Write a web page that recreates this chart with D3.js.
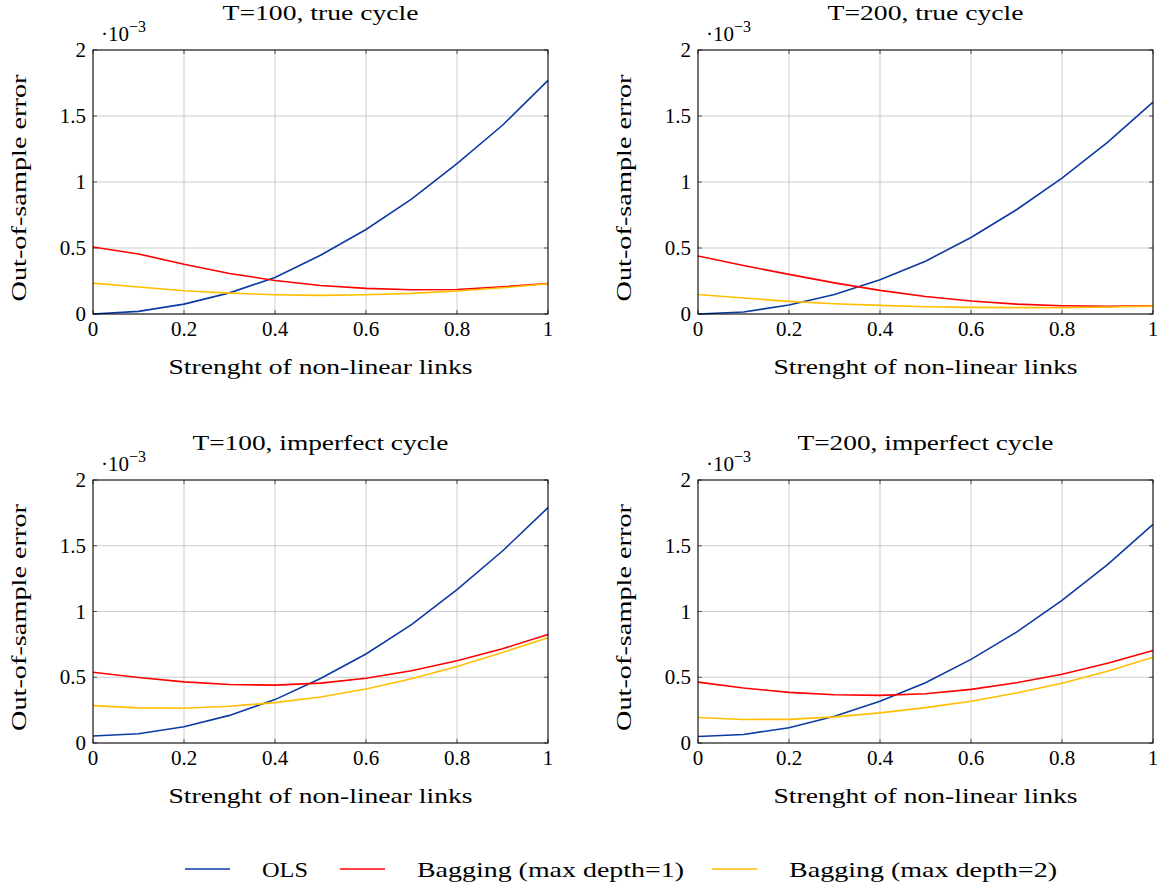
<!DOCTYPE html>
<html>
<head>
<meta charset="utf-8">
<script src="https://cdn.jsdelivr.net/npm/d3@7"></script>
<style>
  body { margin: 0; background: #fff; }
  text { font-family: "Liberation Serif", "Times New Roman", serif; fill: #000; }
</style>
</head>
<body>
<div id="chart"></div>
<script>
// x values (strength of non-linear links)
let xs = [0, 0.1, 0.2, 0.3, 0.4, 0.5, 0.6, 0.7, 0.8, 0.9, 1]

// errors, in units of 1e-3
let olsTrue100 = [0, 0.02, 0.075, 0.16, 0.277, 0.445, 0.64, 0.87, 1.14, 1.43, 1.77]
let bag1True100 = [0.508, 0.455, 0.377, 0.307, 0.254, 0.216, 0.194, 0.184, 0.186, 0.206, 0.231]
let bag2True100 = [0.234, 0.204, 0.176, 0.158, 0.146, 0.141, 0.146, 0.156, 0.174, 0.199, 0.229]

let olsTrue200 = [0, 0.015, 0.068, 0.148, 0.259, 0.40, 0.58, 0.79, 1.03, 1.30, 1.605]
let bag1True200 = [0.44, 0.367, 0.30, 0.236, 0.179, 0.133, 0.098, 0.075, 0.063, 0.058, 0.063]
let bag2True200 = [0.148, 0.121, 0.096, 0.078, 0.065, 0.055, 0.05, 0.048, 0.048, 0.053, 0.06]

let olsImp100 = [0.053, 0.07, 0.123, 0.21, 0.33, 0.49, 0.677, 0.90, 1.167, 1.46, 1.79]
let bag1Imp100 = [0.538, 0.498, 0.465, 0.445, 0.44, 0.455, 0.493, 0.55, 0.626, 0.717, 0.825]
let bag2Imp100 = [0.284, 0.267, 0.264, 0.279, 0.307, 0.35, 0.41, 0.488, 0.581, 0.689, 0.80]

let olsImp200 = [0.05, 0.065, 0.116, 0.204, 0.317, 0.458, 0.636, 0.843, 1.084, 1.356, 1.663]
let bag1Imp200 = [0.463, 0.418, 0.385, 0.367, 0.362, 0.375, 0.408, 0.458, 0.523, 0.606, 0.704]
let bag2Imp200 = [0.194, 0.179, 0.18, 0.199, 0.229, 0.269, 0.317, 0.38, 0.455, 0.546, 0.652]

let seriesNames = ['OLS', 'Bagging (max depth=1)', 'Bagging (max depth=2)']
let seriesColors = ['#0b3aa3', '#ff0000', '#ffbf00']

let xTicks = [0, 0.2, 0.4, 0.6, 0.8, 1]
let yTicks = [0, 0.5, 1, 1.5, 2]

let panels = [
  { title: 'T=100, true cycle', series: [olsTrue100, bag1True100, bag2True100], left: 93, top: 50, bottom: 314 },
  { title: 'T=200, true cycle', series: [olsTrue200, bag1True200, bag2True200], left: 698, top: 50, bottom: 314 },
  { title: 'T=100, imperfect cycle', series: [olsImp100, bag1Imp100, bag2Imp100], left: 93, top: 480, bottom: 743 },
  { title: 'T=200, imperfect cycle', series: [olsImp200, bag1Imp200, bag2Imp200], left: 698, top: 480, bottom: 743 }
]

let width = 1166, height = 888
let plotW = 455
let fs = '21px'

// the reference uses Computer Modern, which runs wider than Liberation Serif,
// so stretch the longer strings to the widths seen there
function label(sel, str, len) {
  let t = sel.append('text').style('font-size', fs).text(str)
  if (len) t.attr('textLength', len).attr('lengthAdjust', 'spacingAndGlyphs')
  return t
}

let svg = d3.select('#chart')
  .append('svg')
  .attr('width', width)
  .attr('height', height)

panels.forEach(function(p) {
  let x = d3.scaleLinear().domain([0, 1]).range([p.left, p.left + plotW])
  let y = d3.scaleLinear().domain([0, 2]).range([p.bottom, p.top])
  let g = svg.append('g')

  // grid
  g.selectAll('.gx').data(xTicks).enter().append('line')
    .attr('x1', d => x(d)).attr('x2', d => x(d))
    .attr('y1', p.top).attr('y2', p.bottom)
    .attr('stroke', '#cccccc').attr('stroke-width', 1)
  g.selectAll('.gy').data(yTicks).enter().append('line')
    .attr('x1', p.left).attr('x2', p.left + plotW)
    .attr('y1', d => y(d)).attr('y2', d => y(d))
    .attr('stroke', '#cccccc').attr('stroke-width', 1)

  // inner ticks on all four sides
  let tl = 4
  xTicks.forEach(function(t) {
    g.append('line').attr('x1', x(t)).attr('x2', x(t)).attr('y1', p.bottom).attr('y2', p.bottom - tl).attr('stroke', '#555')
    g.append('line').attr('x1', x(t)).attr('x2', x(t)).attr('y1', p.top).attr('y2', p.top + tl).attr('stroke', '#555')
  })
  yTicks.forEach(function(t) {
    g.append('line').attr('x1', p.left).attr('x2', p.left + tl).attr('y1', y(t)).attr('y2', y(t)).attr('stroke', '#555')
    g.append('line').attr('x1', p.left + plotW).attr('x2', p.left + plotW - tl).attr('y1', y(t)).attr('y2', y(t)).attr('stroke', '#555')
  })

  // lines
  let line = d3.line()
    .x((d, i) => x(xs[i]))
    .y(d => y(d))
  p.series.forEach(function(s, k) {
    g.append('path')
      .datum(s)
      .attr('d', line)
      .attr('fill', 'none')
      .attr('stroke', seriesColors[k])
      .attr('stroke-width', 1.6)
  })

  // frame
  g.append('rect')
    .attr('x', p.left).attr('y', p.top)
    .attr('width', plotW).attr('height', p.bottom - p.top)
    .attr('fill', 'none').attr('stroke', '#000').attr('stroke-width', 1)

  // tick labels
  g.selectAll('.xl').data(xTicks).enter().append('text')
    .attr('x', d => x(d)).attr('y', p.bottom + 22)
    .attr('text-anchor', 'middle')
    .style('font-size', fs)
    .text(d => d3.format('~g')(d))
  g.selectAll('.yl').data(yTicks).enter().append('text')
    .attr('x', p.left - 7).attr('y', d => y(d) + 7)
    .attr('text-anchor', 'end')
    .style('font-size', fs)
    .text(d => d3.format('~g')(d))

  // scale marker
  let sc = g.append('text')
    .attr('x', p.left + 8).attr('y', p.top - 9)
    .style('font-size', fs)
  sc.append('tspan').text('·10')
  sc.append('tspan').attr('dy', -9).style('font-size', '16px').text('−3')

  // title
  label(g, p.title, p.title.length > 18 ? 256 : 196)
    .attr('x', p.left + plotW / 2 - (p.title.length > 18 ? 128 : 98))
    .attr('y', p.top - 30)

  // axis labels
  label(g, 'Strenght of non-linear links', 304)
    .attr('x', p.left + plotW / 2 - 152).attr('y', p.bottom + 60)
  label(g, 'Out-of-sample error', 227)
    .attr('transform', 'translate(' + (p.left - 67) + ',' + ((p.top + p.bottom) / 2 + 6 + 113.5) + ') rotate(-90)')
})

// legend
let legendX = [185, 340, 712]
let legendW = [46, 267, 268]
let legend = svg.append('g')
seriesNames.forEach(function(name, k) {
  legend.append('line')
    .attr('x1', legendX[k]).attr('x2', legendX[k] + 45)
    .attr('y1', 869).attr('y2', 869)
    .attr('stroke', seriesColors[k]).attr('stroke-width', 1.6)
  label(legend, name, legendW[k])
    .attr('x', legendX[k] + 77).attr('y', 877)
})
</script>
</body>
</html>
